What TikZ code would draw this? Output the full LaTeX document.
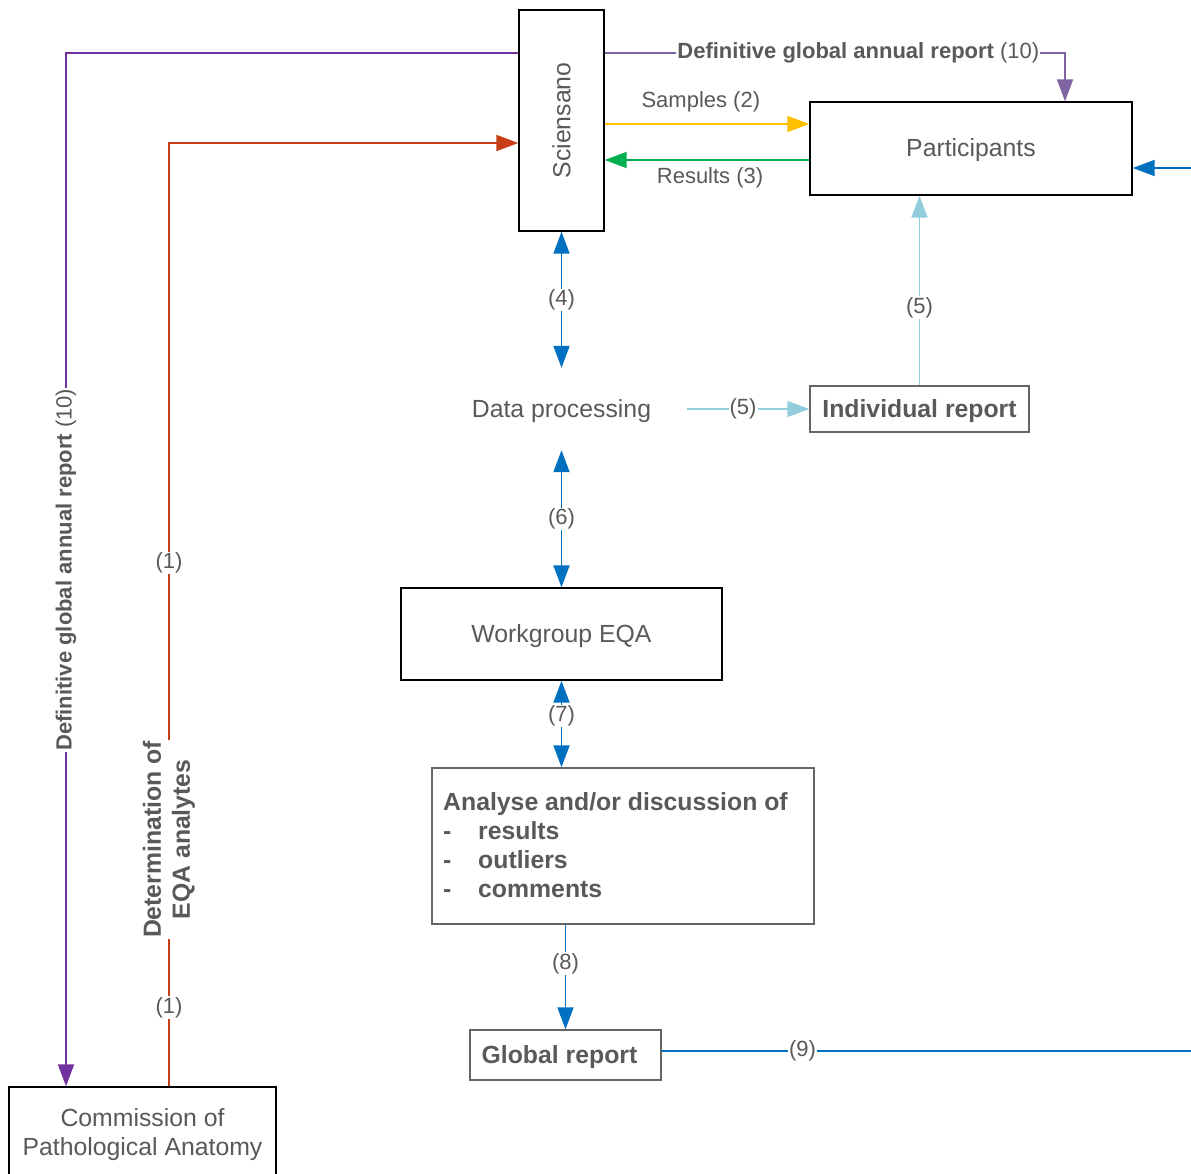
\documentclass[tikz,border=0pt]{standalone}
\usepackage{graphicx}
\usepackage{fontspec}
\setmainfont{Liberation Sans}
\usetikzlibrary{arrows.meta}
\definecolor{txt}{HTML}{595959}
\definecolor{boxgray}{HTML}{666666}
\definecolor{cpurple}{HTML}{7030A0}
\definecolor{cpurpleR}{HTML}{8064A2}
\definecolor{cred}{HTML}{C83E17}
\definecolor{cyellow}{HTML}{FFC000}
\definecolor{cgreen}{HTML}{00B050}
\definecolor{cblue}{HTML}{0070C0}
\definecolor{clight}{HTML}{92CDDC}
\newcommand{\bigf}{\fontsize{24.8}{29}\selectfont}
\newcommand{\smallf}{\fontsize{22}{26}\selectfont}
\newcommand{\lowr}[1]{\raisebox{-2pt}[\height][\depth]{#1}}
\tikzset{
  box/.style={draw=black, line width=1.4pt, text=txt, inner sep=0pt, align=center, font=\bigf},
  gbox/.style={box, draw=boxgray},
  conn/.style={line width=1.9pt},
  arr/.style={-{Triangle[length=22pt,width=16pt]}},
  darr/.style={{Triangle[length=22pt,width=16pt]}-{Triangle[length=22pt,width=16pt]}},
  lbl/.style={fill=white, text=txt, inner sep=1pt, font=\smallf},
  blbl/.style={fill=white, text=txt, inner sep=1pt, font=\bigf\bfseries, align=center},
  plain/.style={text=txt, inner sep=1pt, font=\smallf},
}
\begin{document}
\begin{tikzpicture}[x=1pt,y=-1pt]
\useasboundingbox (0,0) rectangle (1191,1173);
% nodes
\node[box, minimum width=85, minimum height=221] (Sci) at (561.5,120.5) {\rotatebox{90}{Sciensano}};
\node[box, minimum width=322, minimum height=93] (Part) at (971,148.5) {\lowr{Participants}};
\node[gbox, minimum width=219, minimum height=46, font=\bigf\bfseries] (Ind) at (919.5,409) {\lowr{Individual report}};
\node[text=txt, font=\bigf, inner sep=0pt, minimum width=250, minimum height=82] (DP) at (561.5,409) {\lowr{Data processing}};
\node[box, minimum width=321, minimum height=92] (WG) at (561.5,634) {\lowr{Workgroup EQA}};
\node[gbox, minimum width=382, minimum height=156] (An) at (623,846) {};
\node[text=txt, font=\bigf\bfseries, align=left, inner sep=0pt, anchor=north west] (AnT) at (443,792)
  {Analyse and/or discussion of\\\makebox[35pt][l]{-}results\\\makebox[35pt][l]{-}outliers\\\makebox[35pt][l]{-}comments};
\node[gbox, minimum width=191, minimum height=50, font=\bigf\bfseries] (GR) at (565.5,1055) {\lowr{Global report}\hspace{12pt}};
\node[box, minimum width=267, minimum height=92] (Com) at (142.5,1133) {\lowr{\begin{tabular}{@{}c@{}}Commission of\\[0.5pt]Pathological Anatomy\end{tabular}}};
% coordinates
\coordinate (pL) at (66,53);
\coordinate (pR) at (1065,53);
\coordinate (rC) at (169,143);
\coordinate (ySam) at (0,124);
\coordinate (yRes) at (0,160);
\coordinate (gEnd) at (1191,1051);
\coordinate (pIn) at (1191,168);
% purple left
\draw[conn, cpurple, arr] (Sci.west |- pL) -- (pL) --
  node[lbl, rotate=90, midway] {\textbf{Definitive global annual report} (10)} (pL |- Com.north);
% purple right
\draw[conn, cpurpleR, arr] (Sci.east |- pR) --
  node[lbl, pos=0.551] {\textbf{Definitive global annual report} (10)} (pR) -- (Part.north -| pR);
% red
\draw[conn, cred, arr] (Com.north -| rC) --
  node[lbl, pos=0.0837] {(1)}
  node[blbl, pos=0.2617, rotate=90] {Determination of\\EQA analytes}
  node[lbl, pos=0.555] {(1)} (rC) -- (Sci.west |- rC);
% yellow
\draw[conn, cyellow, arr] (Sci.east |- ySam) -- node[plain, pos=0.47, yshift=22pt] {Samples (2)} (Part.west |- ySam);
% green
\draw[conn, cgreen, arr] (Part.west |- yRes) -- node[plain, pos=0.485, yshift=-18pt] {Results (3)} (Sci.east |- yRes);
% blue
\draw[conn, cblue, darr] (Sci.south) -- node[lbl, midway] {(4)} (DP.north);
\draw[conn, cblue, darr] (DP.south) -- node[lbl, midway] {(6)} (WG.north);
\draw[conn, cblue, darr] (WG.south) -- node[lbl, pos=0.41] {(7)} (WG.south |- An.north);
\draw[conn, cblue, arr] (GR.north |- An.south) -- node[lbl, pos=0.37] {(8)} (GR.north);
\draw[conn, cblue] (GR.east |- gEnd) -- node[lbl, pos=0.266] {(9)} (gEnd);
\draw[conn, cblue, arr] (pIn) -- (Part.east |- pIn);
% light blue
\draw[conn, clight, arr] (DP.east) -- node[lbl, pos=0.46] {(5)} (Ind.west);
\draw[conn, clight, arr] (Ind.north) -- node[lbl, pos=0.41] {(5)} (Ind.north |- Part.south);
\end{tikzpicture}
\end{document}
